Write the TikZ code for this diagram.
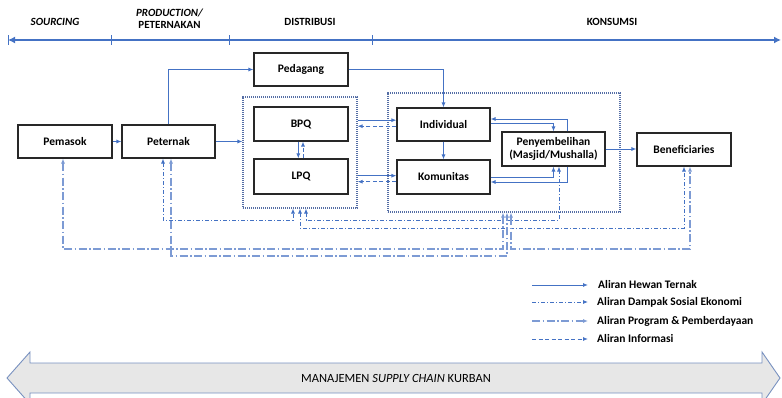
\documentclass[tikz,border=0pt]{standalone}
\usepackage{fontspec}
\setmainfont{Carlito}
\usetikzlibrary{arrows.meta,calc}
\definecolor{flowblue}{RGB}{68,114,196}
\definecolor{lightflow}{RGB}{125,155,212}
\definecolor{grpcol}{RGB}{85,110,165}
\definecolor{boxline}{RGB}{40,40,40}
\definecolor{bannerfill}{RGB}{231,231,231}
\definecolor{bannerline}{RGB}{120,145,192}
\begin{document}
\begin{tikzpicture}[x=1pt,y=-1pt,
  box/.style={draw=boxline,line width=1.1pt,minimum width=94pt,minimum height=33pt,inner sep=0pt,
    font=\fontsize{11.5}{13}\selectfont\bfseries,align=center,fill=white},
  grp/.style={draw=grpcol,line width=1.1pt,dash pattern=on 1.1pt off 0.9pt,inner sep=0pt},
  hd/.style={font=\fontsize{11}{12}\selectfont\bfseries},
  legtext/.style={font=\fontsize{11.5}{13}\selectfont\bfseries,anchor=west,inner sep=0pt},
  flow/.style={draw=flowblue,line width=0.9pt,-{Latex[length=5pt,width=4pt]}},
  info/.style={draw=flowblue,line width=0.9pt,dash pattern=on 4pt off 2.5pt,-{Latex[length=5pt,width=4pt]}},
  sosek/.style={draw=flowblue,line width=0.8pt,dash pattern=on 4pt off 2pt on 1pt off 2pt,
    {Latex[length=5pt,width=4pt]}-{Latex[length=5pt,width=4pt]}},
  sosekone/.style={draw=flowblue,line width=0.8pt,dash pattern=on 4pt off 2pt on 1pt off 2pt,
    -{Latex[length=5pt,width=4pt]}},
  prog/.style={draw=lightflow,line width=1.3pt,dash pattern=on 8pt off 2.5pt on 1.5pt off 2.5pt,
    {Latex[length=5pt,width=4pt]}-{Latex[length=5pt,width=4pt]}},
  progone/.style={draw=lightflow,line width=1.3pt,dash pattern=on 8pt off 2.5pt on 1.5pt off 2.5pt,
    -{Latex[length=5pt,width=4pt]}},
  timeline/.style={draw=flowblue,line width=1.8pt},
  tickmark/.style={draw=flowblue,line width=1pt},
]
\path[use as bounding box] (0,0) rectangle (782,398);

% ---- timeline ----
\coordinate (tlL) at (8,40);
\coordinate (tlR) at (781,40);
\draw[timeline,{Latex[length=7pt,width=7pt]}-{Latex[length=7pt,width=7pt]}] (tlL) -- (tlR);
\foreach \x in {8,111,229,372}{\draw[tickmark] (\x,35.5) -- (\x,45);}
\node[hd] (hsrc) at (55,22) {\itshape SOURCING};
\node[hd,align=center,inner sep=0pt] (hprod) at (169.5,18.5) {\itshape PRODUCTION/\\PETERNAKAN};
\node[hd] (hdist) at (310,22) {DISTRIBUSI};
\node[hd] (hkons) at (612,22) {KONSUMSI};

% ---- groups ----
\node[grp,minimum width=114pt,minimum height=111pt] (g1) at (300,152.5) {};
\node[grp,minimum width=232pt,minimum height=119pt] (g2) at (504,152.5) {};

% ---- boxes ----
\node[box] (pemasok) at (65,141.5) {Pemasok};
\node[box,minimum width=93pt] (peternak) at (168.5,141.5) {Peternak};
\node[box] (pedagang) at (301,69.5) {Pedagang};
\node[box,minimum height=34pt] (bpq) at (301,124) {BPQ};
\node[box,minimum height=35pt] (lpq) at (301,176.5) {LPQ};
\node[box,minimum width=93pt] (individual) at (443.5,124.5) {Individual};
\node[box,minimum width=93pt,minimum height=34pt] (komunitas) at (443.5,177) {Komunitas};
\node[box,minimum width=103pt,minimum height=34pt] (penyembelihan) at (553.5,149) {Penyembelihan\\(Masjid/Mushalla)};
\node[box] (beneficiaries) at (684,149.5) {Beneficiaries};

% ---- solid flows ----
\draw[flow] (pemasok) -- (peternak);
\draw[flow] (peternak.east) -- (g1.west |- peternak.east);
\draw[flow] (peternak.north) |- (pedagang.west);
\draw[flow] (pedagang.east) -| (individual.north);
\coordinate (gi1) at ([yshift=4.3pt]individual.west);
\coordinate (gi2) at ([yshift=-1.7pt]individual.west);
\draw[flow] (g1.east |- gi1) -- (gi1);
\draw[info] (gi2) -- (g1.east |- gi2);
\coordinate (gk1) at ([yshift=1.3pt]komunitas.west);
\coordinate (gk2) at ([yshift=-4.7pt]komunitas.west);
\draw[flow] (g1.east |- gk1) -- (gk1);
\draw[info] (gk2) -- (g1.east |- gk2);
\coordinate (bl1) at ([xshift=-2.7pt]bpq.south);
\coordinate (bl2) at ([xshift=2pt]lpq.north);
\draw[flow] (bl1) -- (bl1 |- lpq.north);
\draw[info] (bl2) -- (bl2 |- bpq.south);
\draw[flow] (individual) -- (komunitas);
\coordinate (ip1) at ([yshift=1.5pt]individual.east);
\draw[flow] (ip1) -| (penyembelihan.north);
\coordinate (ip2) at ([yshift=5.5pt]individual.east);
\coordinate (pn2) at ([xshift=13.5pt]penyembelihan.north);
\draw[flow] (pn2) |- (ip2);
\draw[flow] (komunitas.east) -| (penyembelihan.south);
\coordinate (kp2) at ([yshift=-5pt]komunitas.east);
\coordinate (ps2) at ([xshift=13.5pt]penyembelihan.south);
\draw[flow] (ps2) |- (kp2);
\draw[flow] (penyembelihan.east) -- (penyembelihan.east -| beneficiaries.west);

% ---- bottom routing ----
\coordinate (lvA) at (0,220);
\coordinate (lvB) at (0,228);
\coordinate (lvC) at (0,249);
\coordinate (lvD) at (0,256);
\coordinate (pt1) at ([xshift=-5.5pt]peternak.south);
\coordinate (pt2) at ([xshift=2.5pt]peternak.south);
\coordinate (pm1) at ([xshift=-2pt]pemasok.south);
\coordinate (ga) at ([xshift=-7pt]g1.south);
\coordinate (gb) at (g1.south);
\coordinate (gc) at ([xshift=6pt]g1.south);
\coordinate (ha) at ([xshift=-1pt]g2.south);
\coordinate (hb) at ([xshift=3pt]g2.south);
\coordinate (hc) at ([xshift=7pt]g2.south);
\coordinate (ps3) at ([xshift=5.5pt]penyembelihan.south);
\coordinate (bn1) at (beneficiaries.south);
\coordinate (bn2) at ([xshift=6pt]beneficiaries.south);

\draw[sosek] (pt1) -- (pt1 |- lvA) -- (ga |- lvA) -- (ga);
\draw[sosek] (gc) -- (gc |- lvA) -- (ps3 |- lvA) -- (ps3);
\draw[sosek] (gb) -- (gb |- lvB) -- (bn1 |- lvB) -- (bn1);
\draw[prog] (pm1) -- (pm1 |- lvC) -- (ha |- lvC) -- (ha);
\draw[prog] (pt2) -- (pt2 |- lvD) -- (hb |- lvD) -- (hb);
\draw[prog] (hc) -- (hc |- lvC) -- (bn2 |- lvC) -- (bn2);

% ---- legend ----
\coordinate (la1) at (532,285); \coordinate (lb1) at (588,285);
\coordinate (la2) at (532,302); \coordinate (lb2) at (588,302);
\coordinate (la3) at (532,321); \coordinate (lb3) at (588,321);
\coordinate (la4) at (532,339); \coordinate (lb4) at (588,339);
\draw[flow] (la1) -- (lb1);
\draw[sosekone] (la2) -- (lb2);
\draw[progone] (la3) -- (lb3);
\draw[info] (la4) -- (lb4);
\node[legtext] (lt1) at (598,285) {Aliran Hewan Ternak};
\node[legtext] (lt2) at (597,302) {Aliran Dampak Sosial Ekonomi};
\node[legtext] (lt3) at (597,321) {Aliran Program \& Pemberdayaan};
\node[legtext] (lt4) at (597,339) {Aliran Informasi};

% ---- banner ----
\draw[fill=bannerfill,draw=bannerline,line width=0.9pt]
  (7,378) -- (30,352) -- (30,363) -- (762,363) -- (762,352) -- (780,378)
  -- (762,404) -- (762,393) -- (30,393) -- (30,404) -- cycle;
\node[font=\fontsize{12.5}{14}\selectfont] (banner) at (396,378) {MANAJEMEN \textit{SUPPLY CHAIN} KURBAN};
\end{tikzpicture}
\end{document}
